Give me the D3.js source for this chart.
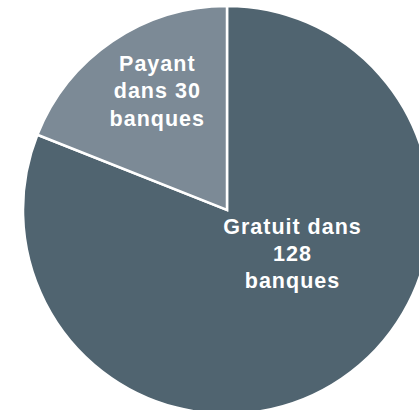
<html>
<head>
	<style>
		body { margin: 0; background: white; }
		text { font-family: "Liberation Sans", Arial, sans-serif; font-weight: bold; fill: white; }
	</style>
	<script src="https://d3js.org/d3.v7.min.js"></script>
</head>
<body>
	<script>
		// Data
		var categories = ["Gratuit", "Payant"];
		var counts     = [128, 30];
		var labels     = [["Gratuit dans", "128", "banques"], ["Payant", "dans 30", "banques"]];
		var colors     = ["#506470", "#7c8a96"];

		// Sizing
		var width  = 419, height = 410;
		var cx = 227, cy = 210, radius = 204;

		var svg = d3.select("body").append("svg")
			.attr("width", width)
			.attr("height", height);

		var g = svg.append("g").attr("transform", "translate(" + cx + "," + cy + ")");

		var pie = d3.pie().sort(null).value(function(d) { return d; });
		var arcs = pie(counts);

		var arc = d3.arc().innerRadius(0).outerRadius(radius);

		g.selectAll("path").data(arcs).enter().append("path")
			.attr("d", arc)
			.style("fill", function(d, i) { return colors[i]; })
			.style("stroke", "white")
			.style("stroke-width", 2.5)
			.style("stroke-linejoin", "miter");

		// label placement (Excel-ish: not exactly at the mid angle)
		var labelRadius = [78.5, 138];
		var angleShift  = [-21.7 * Math.PI / 180, 3.6 * Math.PI / 180];
		var lineHeight  = 27.3;

		arcs.forEach(function(d, i) {
			var a = (d.startAngle + d.endAngle) / 2 + angleShift[i];
			var x = labelRadius[i] * Math.sin(a);
			var y = -labelRadius[i] * Math.cos(a);
			var lines = labels[i];
			var t = g.append("text")
				.attr("text-anchor", "middle")
				.style("font-size", "21.5px")
				.style("letter-spacing", "1px");
			lines.forEach(function(s, j) {
				t.append("tspan")
					.attr("x", x + 0.5)
					.attr("y", y + (j - (lines.length - 1) / 2) * lineHeight + 7)
					.text(s);
			});
		});
	</script>
</body>
</html>
